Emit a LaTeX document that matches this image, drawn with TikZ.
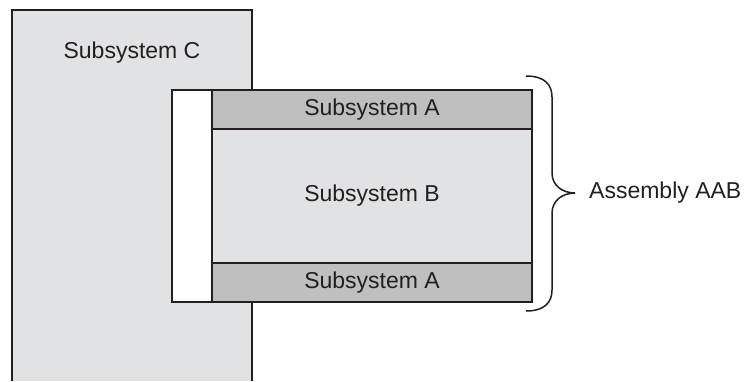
\documentclass[tikz,border=0pt]{standalone}
\usepackage{fontspec}
\setmainfont{Liberation Sans}
\definecolor{ink}{HTML}{231F20}
\definecolor{lightfill}{HTML}{E1E2E3}
\definecolor{darkfill}{HTML}{BFBFC0}
\begin{document}
\begin{tikzpicture}[x=1pt,y=-1pt,
  lbl/.style={text=ink,font=\fontsize{23}{27}\selectfont},
  boxstyle/.style={draw=ink,line width=2.5pt,inner sep=0pt,outer sep=0pt},
  bracestyle/.style={draw=ink,line width=1.5pt}]
\useasboundingbox (0,0) rectangle (746,381);
% Subsystem C (open at bottom)
\coordinate (cTL) at (12,10);
\coordinate (cTR) at (252,10);
\coordinate (cBL) at (12,381);
\coordinate (cBR) at (252,381);
\fill[lightfill] (cBL) -- (cTL) -- (cTR) -- (cBR) -- cycle;
\draw[ink,line width=2.5pt] (cBL) -- (cTL) -- (cTR) -- (cBR);
\node[lbl,anchor=base] (clabel) at (132,58) {Subsystem C};
% white spacer
\node[boxstyle,fill=white,minimum width=40pt,minimum height=212pt,anchor=north west] (w) at (172,90) {};
% Subsystem A top
\node[boxstyle,fill=darkfill,minimum width=320pt,minimum height=39pt,anchor=north west] (a1) at (212,90) {};
% Subsystem B
\node[boxstyle,fill=lightfill,minimum width=320pt,minimum height=134pt,anchor=north west] (b) at (212,129) {};
% Subsystem A bottom
\node[boxstyle,fill=darkfill,minimum width=320pt,minimum height=39pt,anchor=north west] (a2) at (212,263) {};
\node[lbl] at (a1.center) {Subsystem A};
\node[lbl] at (b.center) {Subsystem B};
\node[lbl] at (a2.center) {Subsystem A};
% brace
\coordinate (bt) at (526,76);
\coordinate (bb) at (526,311);
\coordinate (tip) at (575,193);
\draw[bracestyle] (bt) .. controls (545,76) and (552,85) .. (552,97) -- (552,173)
  .. controls (552,185) and (562,193) .. (tip)
  .. controls (562,193) and (552,201) .. (552,213) -- (552,290)
  .. controls (552,302) and (545,311) .. (bb);
\node[lbl,anchor=west,inner sep=0pt] (asm) at (589,193) {Assembly AAB};
\end{tikzpicture}
\end{document}
